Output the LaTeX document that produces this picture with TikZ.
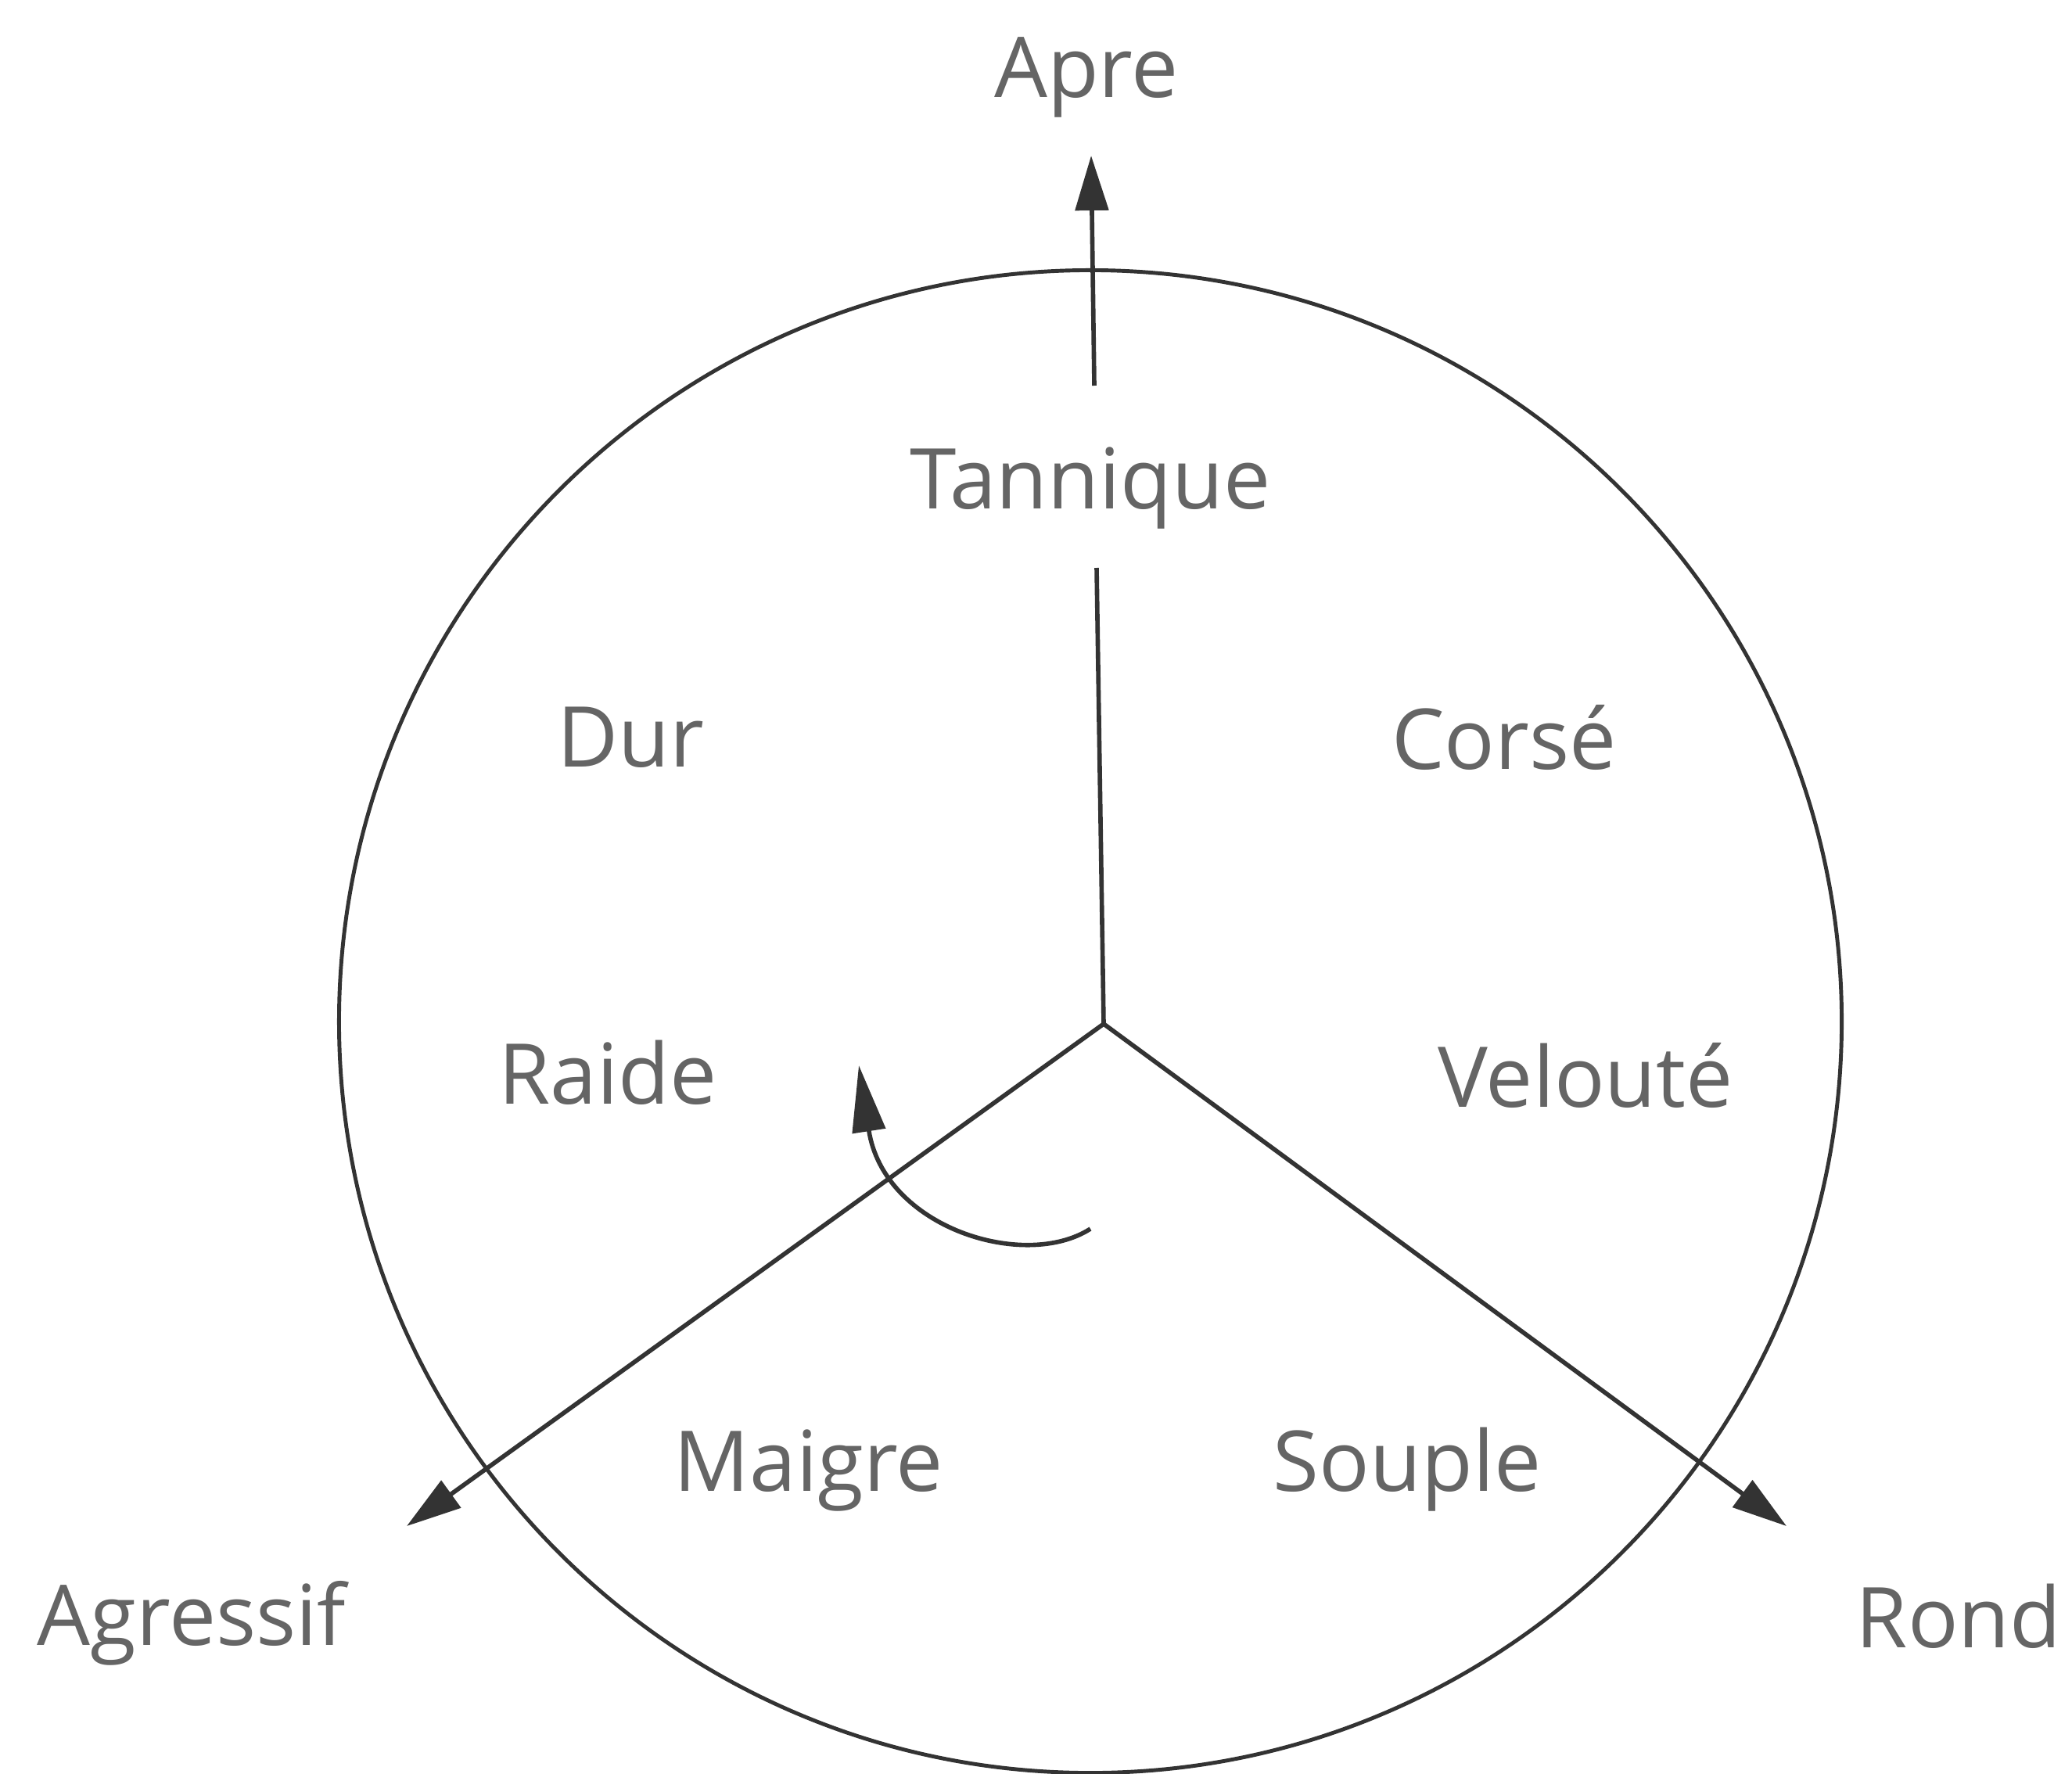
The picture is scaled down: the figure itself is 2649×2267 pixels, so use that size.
\documentclass[tikz,border=0pt]{standalone}
\usepackage{fontspec}
\setmainfont{Open Sans}
\usetikzlibrary{arrows.meta}
\definecolor{ink}{HTML}{333333}
\definecolor{txt}{HTML}{656565}
\tikzset{
  lbl/.style={anchor=base, text=txt, inner sep=0pt, font=\fontsize{30.5}{36}\selectfont},
  axis/.style={draw=ink, line width=1.6pt},
  tip/.style={-{Triangle[length=7mm, width=4.2mm]}},
}
\begin{document}
\begin{tikzpicture}[x=0.01cm, y=-0.01cm]
\useasboundingbox (0,0) rectangle (2649,2267);
\fill[white] (0,0) rectangle (2649,2267);
% circle
\coordinate (C) at (1394,1306);
\draw[ink, line width=1.4pt] (C) circle [radius=9.6cm];
% axes
\coordinate (O) at (1411,1309);
\coordinate (Vtop) at (1402,726);
\coordinate (Abot) at (1399,493);
\coordinate (Atip) at (1395,199);
\coordinate (LL) at (520,1951);
\coordinate (LR) at (2284,1951);
\draw[axis] (Vtop) -- (O);
\draw[axis, tip] (Abot) -- (Atip);
\draw[axis, tip] (O) -- (LL);
\draw[axis, tip] (O) -- (LR);
% rotation arrow
\coordinate (R1) at (1394,1571);
\coordinate (R2) at (1098,1362);
\draw[axis, -{Triangle[length=8.5mm, width=4.2mm]}] (R1) .. controls (1310,1625) and (1130,1570) .. (R2);
% labels
\node[lbl] (apre) at (1389,125) {Apre};
\node[lbl] (tannique) at (1394,650) {Tannique};
\node[lbl] (dur) at (806,980) {Dur};
\node[lbl] (corse) at (1923,983) {Corsé};
\node[lbl] (raide) at (777,1411) {Raide};
\node[lbl] (veloute) at (2027,1415) {Velouté};
\node[lbl] (maigre) at (1034,1906) {Maigre};
\node[lbl] (souple) at (1799,1906) {Souple};
\node[lbl] (agressif) at (245,2103) {Agressif};
\node[lbl] (rond) at (2504,2106) {Rond};
\end{tikzpicture}
\end{document}
